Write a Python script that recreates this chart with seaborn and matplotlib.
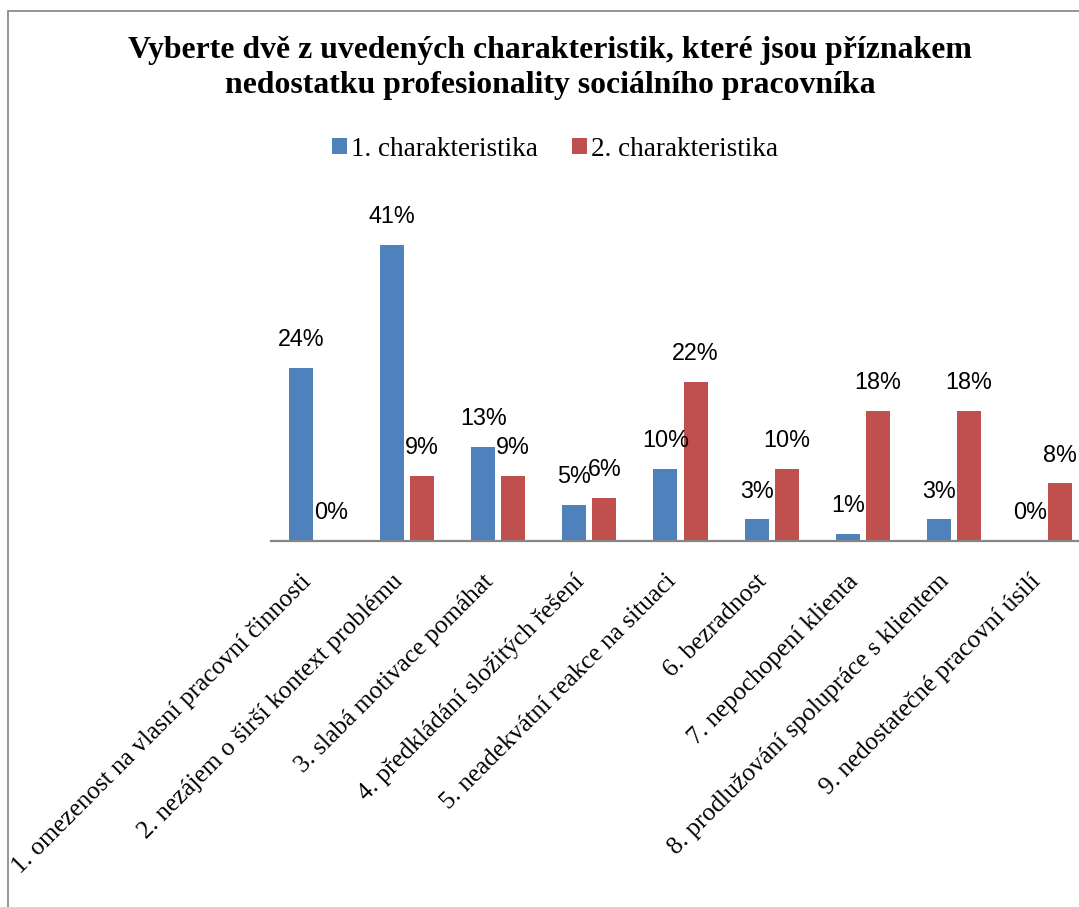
import matplotlib
matplotlib.use("Agg")
import matplotlib.pyplot as plt
from matplotlib.patches import Rectangle, Patch
import pandas as pd
import seaborn as sns

categories = [
    "1. omezenost na vlasní pracovní činnosti",
    "2. nezájem o širší kontext problému",
    "3. slabá motivace pomáhat",
    "4. předkládání složitých řešení",
    "5. neadekvátní reakce na situaci",
    "6. bezradnost",
    "7. nepochopení klienta",
    "8. prodlužování spolupráce s klientem",
    "9. nedostatečné pracovní úsilí",
]
series_names = ["1. charakteristika", "2. charakteristika"]
first_values = [24, 41, 13, 5, 10, 3, 1, 3, 0]
second_values = [0, 9, 9, 6, 22, 10, 18, 18, 8]
title_text = ("Vyberte dvě z uvedených charakteristik, které jsou příznakem\n"
              "nedostatku profesionality sociálního pracovníka")

colors = ["#4F81BD", "#C0504D"]
serif = "Liberation Serif"
sans = "Liberation Sans"

df = pd.DataFrame({
    "kategorie": categories * 2,
    "serie": [series_names[0]] * len(categories) + [series_names[1]] * len(categories),
    "hodnota": first_values + second_values,
})

sns.set_style("white")
plt.rcParams["text.color"] = "black"
plt.rcParams["xtick.color"] = "black"

W, H = 1079, 907
fig = plt.figure(figsize=(W / 100, H / 100), dpi=100)

# outer frame of the chart area
fig.patches.append(Rectangle((8 / W, -0.05), 1.1, 1 - 11 / H + 0.05,
                             transform=fig.transFigure, fill=False,
                             edgecolor="#8c8c8c", linewidth=1.3))

ax = fig.add_axes([270.5 / W, 1 - 541 / H, 820 / W, 325 / H])
sns.barplot(data=df, x="kategorie", y="hodnota", hue="serie",
            order=categories, hue_order=series_names, palette=colors,
            width=0.66, gap=0.2, saturation=1, legend=False, ax=ax,
            edgecolor="none")

ax.set_xlim(-0.5, 8.5)
ax.set_ylim(0, 45)
ax.set_xlabel("")
ax.set_ylabel("")
ax.set_yticks([])
for s in ["left", "right", "top"]:
    ax.spines[s].set_visible(False)
ax.spines["bottom"].set_color("#868686")
ax.spines["bottom"].set_linewidth(1.6)

# category labels, slanted under each group
ax.set_xticks(range(len(categories)))
ax.set_xticklabels([""] * len(categories))
ax.tick_params(axis="x", length=0)
for i, cat in enumerate(categories):
    ax.annotate(cat, xy=(i, 0), xycoords=("data", "axes fraction"),
                xytext=(-8, -37), textcoords="offset pixels",
                rotation=45, ha="right", va="center", rotation_mode="anchor",
                fontfamily=serif, fontsize=18.3, color="black",
                annotation_clip=False)

# value labels above bars
for cont in ax.containers:
    for bar in cont:
        h = bar.get_height()
        ax.annotate(f"{h:.0f}%", (bar.get_x() + bar.get_width() / 2, h),
                    xytext=(0, 12), textcoords="offset points",
                    ha="center", va="bottom", fontsize=16.8, fontfamily=sans,
                    color="black", annotation_clip=False)

fig.text(550 / W, 1 - 68 / H, title_text, ha="center", va="center",
         fontfamily=serif, fontweight="bold", fontsize=22.9, linespacing=1.3,
         color="black")

handles = [Patch(facecolor=c, edgecolor="none") for c in colors]
fig.legend(handles, series_names, loc="center", bbox_to_anchor=(555 / W, 1 - 149 / H),
           ncol=2, frameon=False, prop={"family": serif, "size": 19.5},
           handlelength=0.55, handleheight=0.55, handletextpad=0.15,
           columnspacing=1.25, borderpad=0)

fig.savefig("out.png", dpi=100)
